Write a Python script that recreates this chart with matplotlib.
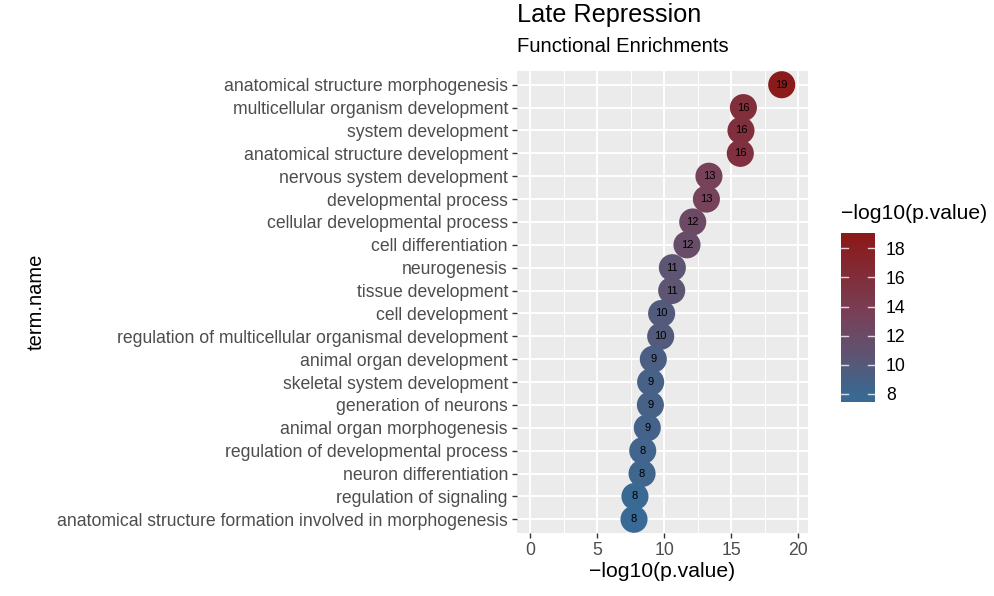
import numpy as np
import matplotlib
matplotlib.use("Agg")
import matplotlib.pyplot as plt
from matplotlib.colors import LinearSegmentedColormap, Normalize

plt.rcParams["font.family"] = ["Liberation Sans", "DejaVu Sans"]

terms = [
    "anatomical structure morphogenesis",
    "multicellular organism development",
    "system development",
    "anatomical structure development",
    "nervous system development",
    "developmental process",
    "cellular developmental process",
    "cell differentiation",
    "neurogenesis",
    "tissue development",
    "cell development",
    "regulation of multicellular organismal development",
    "animal organ development",
    "skeletal system development",
    "generation of neurons",
    "animal organ morphogenesis",
    "regulation of developmental process",
    "neuron differentiation",
    "regulation of signaling",
    "anatomical structure formation involved in morphogenesis",
]
neglog_p = [18.76, 15.9, 15.72, 15.67, 13.33, 13.14, 12.12, 11.69, 10.6, 10.55,
            9.8, 9.73, 9.18, 8.98, 8.96, 8.73, 8.39, 8.34, 7.81, 7.74]
x_ticks = [0, 5, 10, 15, 20]
cbar_ticks = [8, 10, 12, 14, 16, 18]

cmap = LinearSegmentedColormap.from_list(
    "rep", [(0.0, "#386A95"), (0.25, "#5D5574"), (0.5, "#77425A"), (1.0, "#8B1A1A")])
norm = Normalize(vmin=min(neglog_p), vmax=max(neglog_p))

fig = plt.figure(figsize=(9.95, 5.96), dpi=100)
ax = fig.add_axes([517 / 995, 1 - 533 / 596, 291 / 995, 462 / 596])
ax.set_facecolor("#EBEBEB")

n = len(terms)
ypos = np.arange(n, 0, -1)
ax.scatter(neglog_p, ypos, s=380, c=neglog_p, cmap=cmap, norm=norm,
           edgecolors="none", zorder=3)
for v, y in zip(neglog_p, ypos):
    ax.text(v, y, str(int(round(v))), ha="center", va="center",
            fontsize=8, color="black", zorder=4)

ax.set_xlim(-0.99, 20.72)
ax.set_ylim(0.4, n + 0.6)
ax.set_xticks(x_ticks)
ax.set_xticks([2.5, 7.5, 12.5, 17.5], minor=True)
ax.set_yticks(ypos)
ax.set_yticklabels(terms)
ax.grid(which="major", color="white", linewidth=1.4, zorder=0)
ax.grid(which="minor", axis="x", color="white", linewidth=0.7, zorder=0)
ax.set_axisbelow(True)
for s in ax.spines.values():
    s.set_visible(False)
ax.tick_params(which="major", length=3.5, width=1, color="#333333",
               labelsize=12.7, labelcolor="#4D4D4D", pad=3)
ax.tick_params(which="minor", length=0)

ax.set_xlabel("\u2212log10(p.value)", fontsize=15.2, labelpad=2)
ax.set_ylabel("term.name", fontsize=14.5, labelpad=0)
ax.yaxis.set_label_coords(-1.62, 0.5)

fig.text(517 / 995, 1 - 15 / 596, "Late Repression", fontsize=18.2, va="center")
fig.text(517 / 995, 1 - 47 / 596, "Functional Enrichments", fontsize=14.6, va="center")

# colour bar drawn on its own axes, a little past the data range like ggplot's
lo, hi = min(neglog_p), max(neglog_p)
pad = (hi - lo) / 38
cax = fig.add_axes([841 / 995, 1 - 402 / 596, 34 / 995, 169 / 596])
grad = np.linspace(lo - pad, hi + pad, 200).reshape(-1, 1)
cax.imshow(grad, aspect="auto", origin="lower", cmap=cmap, norm=norm,
           extent=[0, 1, lo - pad, hi + pad])
cax.set_xlim(0, 1)
cax.set_ylim(lo - pad, hi + pad)
for t in cbar_ticks:
    cax.plot([0, 0.2], [t, t], color="white", lw=1, alpha=0.8)
    cax.plot([0.8, 1], [t, t], color="white", lw=1, alpha=0.8)
cax.set_xticks([])
cax.yaxis.tick_right()
cax.set_yticks(cbar_ticks)
cax.tick_params(length=0, labelsize=12.7, pad=8)
for s in cax.spines.values():
    s.set_visible(False)
fig.text(841 / 995, 1 - 213 / 596, "\u2212log10(p.value)", fontsize=15.2, va="center")

fig.savefig("out.png", dpi=100)
